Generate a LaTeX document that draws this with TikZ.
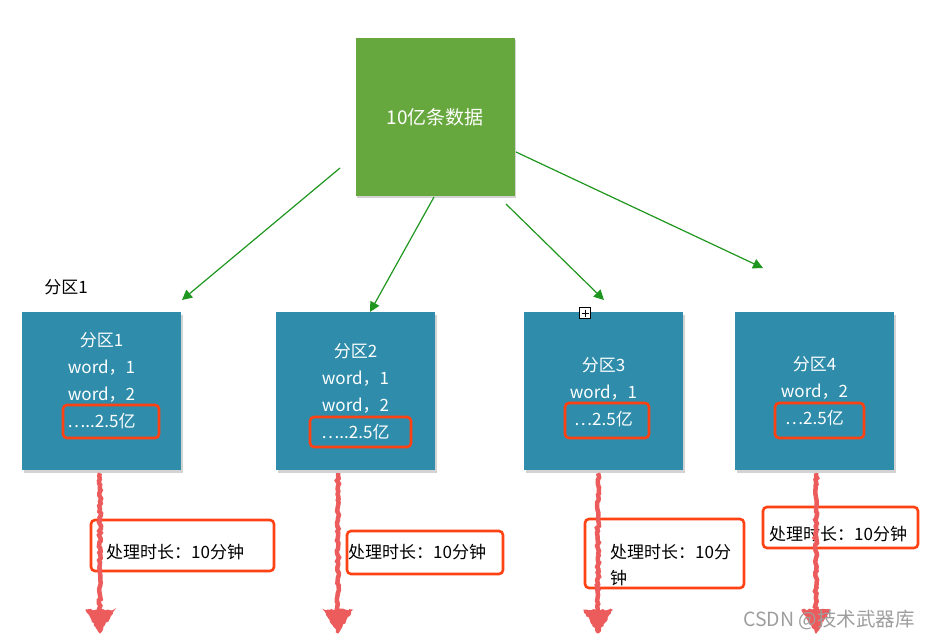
\documentclass[tikz,border=0pt]{standalone}
\usepackage{fontspec}
\setmainfont{Noto Sans CJK SC}
\usetikzlibrary{shadows,decorations.pathmorphing,arrows.meta,calc}
\definecolor{grass}{HTML}{66A83D}
\definecolor{sea}{HTML}{2F8DAB}
\definecolor{hilite}{HTML}{FF4214}
\definecolor{flow}{HTML}{EC5C5C}
\definecolor{link}{HTML}{1F961F}
\begin{document}
\begin{tikzpicture}[x=1pt,y=-1pt,
  tile/.style={minimum width=159pt,minimum height=158pt,inner sep=0pt,
    drop shadow={shadow xshift=1.5pt,shadow yshift=-2.5pt,opacity=0.35}},
  greentile/.style={tile,fill=grass},
  bluetile/.style={tile,fill=sea},
  tiletext/.style={text=white,font=\fontsize{17}{27}\selectfont,align=center,inner sep=0pt},
  hmark/.style={draw=hilite,line width=2.6pt,rounded corners=4pt,inner sep=0pt},
  note/.style={font=\fontsize{17}{26}\selectfont,align=left,inner sep=0pt,anchor=west},
  link arrow/.style={draw=link,line width=1.2pt,-{Triangle[length=10pt,width=10pt]}},
  shaft/.style={draw=flow,line width=4.5pt,decorate,
    decoration={random steps,segment length=2.5pt,amplitude=1.1pt}},
  head/.style={fill=flow,draw=flow,line width=1pt,decorate,
    decoration={random steps,segment length=2pt,amplitude=1pt}}]
\useasboundingbox (0,0) rectangle (931,640);

% top tile
\node[greentile] (top) at (435,116.5) {};
\node[text=white,font=\fontsize{19}{22}\selectfont,inner sep=0pt] (toptext) at (435,117) {10亿条数据};

% partition tiles
\node[bluetile] (p1) at (101.5,391) {};
\node[bluetile] (p2) at (355.5,391) {};
\node[bluetile] (p3) at (603.5,391) {};
\node[bluetile] (p4) at (814.5,391) {};

\node[tiletext] (t1) at (101.5,380.5) {分区1\\word，1\\word，2\\…..2.5亿};
\node[tiletext] (t2) at (355.5,392) {分区2\\word，1\\word，2\\…..2.5亿};
\node[tiletext] (t3) at (603.5,392) {分区3\\word，1\\…2.5亿};
\node[tiletext] (t4) at (814.5,391.5) {分区4\\word，2\\…2.5亿};

% highlight marks inside tiles
\node[hmark,minimum width=96pt,minimum height=33pt] (m1) at (111,421.5) {};
\node[hmark,minimum width=101pt,minimum height=30pt] (m2) at (360.5,432) {};
\node[hmark,minimum width=84pt,minimum height=35pt] (m3) at (607,420.5) {};
\node[hmark,minimum width=89pt,minimum height=35pt] (m4) at (819.5,420.5) {};

% label
\node[font=\fontsize{17}{20}\selectfont,inner sep=0pt] (lbl) at (66,287) {分区1};

% small icon
\node[draw=black,fill=white,line width=0.8pt,minimum size=11pt,inner sep=0pt] (icon) at (585,313) {};
\draw[line width=0.9pt] ($(icon.center)+(-3.5,0)$) -- ($(icon.center)+(3.5,0)$);
\draw[line width=0.9pt] ($(icon.center)+(0,-3.5)$) -- ($(icon.center)+(0,3.5)$);

% green arrows
\coordinate (s1) at (340,168);
\coordinate (e1) at (182,300);
\coordinate (s2) at (434,197);
\coordinate (e2) at (370,312);
\coordinate (s3) at (506,204);
\coordinate (e3) at (604,300);
\coordinate (s4) at (516,152);
\coordinate (e4) at (763,268);
\draw[link arrow] (s1) -- (e1);
\draw[link arrow] (s2) -- (e2);
\draw[link arrow] (s3) -- (e3);
\draw[link arrow] (s4) -- (e4);

% duration boxes
\node[hmark,minimum width=183pt,minimum height=51pt] (d1) at (182.5,545.5) {};
\node[hmark,minimum width=156pt,minimum height=43pt] (d2) at (425,552.5) {};
\node[hmark,minimum width=159pt,minimum height=69pt] (d3) at (664.5,553.5) {};
\node[hmark,minimum width=155pt,minimum height=41pt] (d4) at (840.5,527.5) {};

\node[note] (n1) at (106,552) {处理时长：10分钟};
\node[note] (n2) at (348,552) {处理时长：10分钟};
\node[note] (n3) at (610,565) {处理时长：10分\\钟};
\node[note] (n4) at (769,534) {处理时长：10分钟};

% red flow arrows
\foreach \i/\x in {1/100,2/338,3/598,4/816}{
  \coordinate (f\i) at (\x,611);
  \coordinate (g\i) at (\x,633);
  \draw[shaft] ($(p\i.south -| f\i)+(0,3)$) -- (f\i);
  \path[head] ($(f\i)+(-14,-1)$) -- ($(f\i)+(14,-1)$) -- (g\i) -- cycle;
}

% watermark
\node[text=black!38,font=\fontsize{19.5}{22}\selectfont,inner sep=0pt,anchor=east] (wm) at (915,620) {CSDN @技术武器库};
\end{tikzpicture}
\end{document}
